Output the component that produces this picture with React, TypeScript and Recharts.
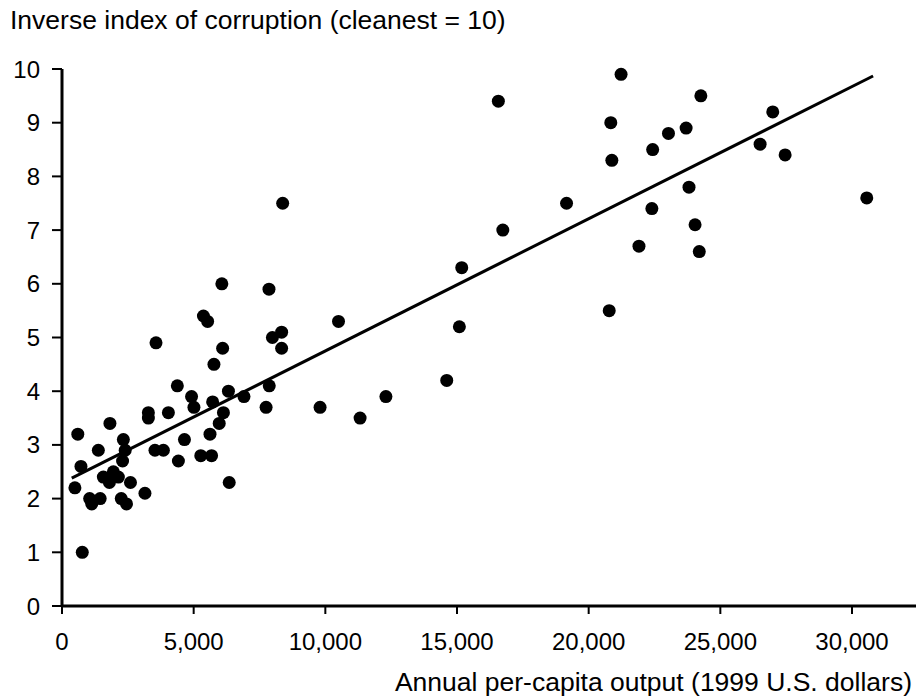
import { ScatterChart, Scatter, XAxis, YAxis } from "recharts";

// per-capita output (1999 US$) and inverse corruption index
const outputPerCapita = [
  490, 600, 720, 770, 1050, 1130, 1380, 1450, 1570, 1800, 1820, 1950, 2140,
  2250, 2300, 2330, 2400, 2450, 2600, 3150, 3280, 3280, 3530, 3570, 3850, 4040,
  4380, 4420, 4650, 4920, 5010, 5270, 5370, 5530, 5620, 5680, 5720, 5770, 5970,
  6070, 6100, 6130, 6320, 6350, 6910, 7750, 7860, 7870, 7990, 8340, 8340, 8380,
  9800, 10500, 11320, 12300, 14610, 15090, 15180, 16570, 16740, 19160, 20780,
  20840, 20880, 21230, 21910, 22400, 22430, 23030, 23700, 23810, 24040, 24200,
  24260, 26510, 26990, 27460, 30560,
];
const corruptionIndex = [
  2.2, 3.2, 2.6, 1.0, 2.0, 1.9, 2.9, 2.0, 2.4, 2.3, 3.4, 2.5, 2.4,
  2.0, 2.7, 3.1, 2.9, 1.9, 2.3, 2.1, 3.6, 3.5, 2.9, 4.9, 2.9, 3.6,
  4.1, 2.7, 3.1, 3.9, 3.7, 2.8, 5.4, 5.3, 3.2, 2.8, 3.8, 4.5, 3.4,
  6.0, 4.8, 3.6, 4.0, 2.3, 3.9, 3.7, 5.9, 4.1, 5.0, 5.1, 4.8, 7.5,
  3.7, 5.3, 3.5, 3.9, 4.2, 5.2, 6.3, 9.4, 7.0, 7.5, 5.5,
  9.0, 8.3, 9.9, 6.7, 7.4, 8.5, 8.8, 8.9, 7.8, 7.1, 6.6,
  9.5, 8.6, 9.2, 8.4, 7.6,
];

// fitted line end points
const fitX = [370, 30800];
const fitY = [2.38, 9.87];

const xTicks = [0, 5000, 10000, 15000, 20000, 25000, 30000];
const yTicks = [0, 1, 2, 3, 4, 5, 6, 7, 8, 9, 10];
const xMax = 32430;

const points = outputPerCapita.map((x, i) => ({ x, y: corruptionIndex[i] }));
const fitLine = fitX.map((x, i) => ({ x, y: fitY[i] }));

const font = "'Liberation Sans', Arial, Helvetica, sans-serif";

const Dot = (props: any) => (
  <circle cx={props.cx} cy={props.cy} r={6.5} fill="#000" />
);

export default function App() {
  return (
    <div
      style={{
        position: "absolute",
        left: 0,
        top: 0,
        width: 916,
        height: 696,
        background: "#fff",
        fontFamily: font,
        color: "#000",
      }}
    >
      <div style={{ position: "absolute", left: 10, top: 5, fontSize: 26.5, whiteSpace: "nowrap" }}>
        Inverse index of corruption (cleanest = 10)
      </div>
      <ScatterChart
        width={916}
        height={696}
        margin={{ top: 69, right: 0, bottom: 0, left: 0 }}
      >
        <XAxis
          type="number"
          dataKey="x"
          domain={[0, xMax]}
          ticks={xTicks}
          interval={0}
          height={90}
          tickSize={8}
          tickMargin={19}
          tickFormatter={(v: number) => v.toLocaleString("en-US")}
          axisLine={{ stroke: "#000", strokeWidth: 3 }}
          tickLine={{ stroke: "#000", strokeWidth: 2 }}
          tick={{ fill: "#000", fontSize: 24, fontFamily: font }}
        />
        <YAxis
          type="number"
          dataKey="y"
          domain={[0, 10]}
          ticks={yTicks}
          interval={0}
          width={62}
          tickSize={10}
          tickMargin={12}
          axisLine={{ stroke: "#000", strokeWidth: 3 }}
          tickLine={{ stroke: "#000", strokeWidth: 2 }}
          tick={{ fill: "#000", fontSize: 24, fontFamily: font }}
        />
        <Scatter
          data={fitLine}
          line={{ stroke: "#000", strokeWidth: 3 }}
          shape={() => <g />}
          isAnimationActive={false}
        />
        <Scatter data={points} shape={Dot} isAnimationActive={false} />
      </ScatterChart>
      <div
        style={{
          position: "absolute",
          right: 4,
          top: 667,
          fontSize: 26.5,
          whiteSpace: "nowrap",
        }}
      >
        Annual per-capita output (1999 U.S. dollars)
      </div>
    </div>
  );
}
